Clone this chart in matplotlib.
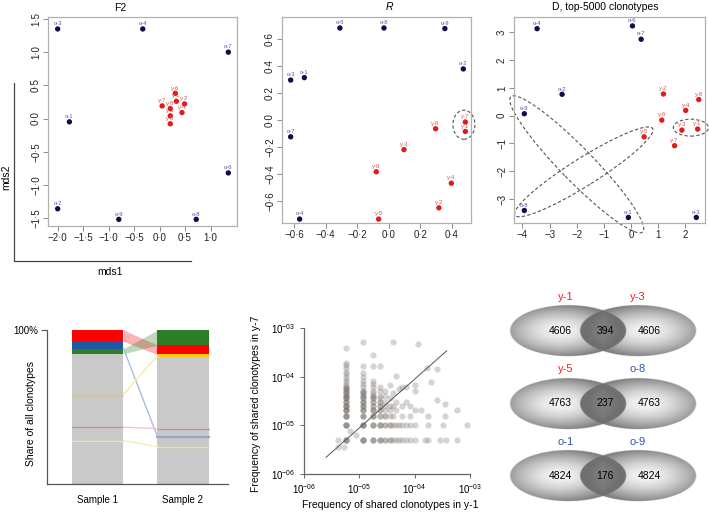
import numpy as np
import matplotlib.pyplot as plt
from matplotlib.patches import Ellipse
from matplotlib.lines import Line2D

plt.rcParams['font.family'] = ['Liberation Sans', 'DejaVu Sans']
plt.rcParams['mathtext.fontset'] = 'custom'
plt.rcParams['mathtext.rm'] = 'Liberation Sans'
plt.rcParams['mathtext.it'] = 'Liberation Sans:italic'

# ---------------- data ----------------
samples = ['o-1', 'o-2', 'o-3', 'o-4', 'o-6', 'o-7', 'o-8', 'o-9',
           'y-1', 'y-2', 'y-3', 'y-4', 'y-5', 'y-6', 'y-7', 'y-8']

f2_x = [-1.77, -2.0, -2.0, -0.33, 1.35, 1.35, 0.72, -0.80,
        0.33, 0.49, 0.21, 0.44, 0.21, 0.31, 0.05, 0.21]
f2_y = [-0.05, -1.36, 1.35, 1.35, -0.82, 1.00, -1.52, -1.52,
        0.26, 0.22, 0.04, 0.09, -0.08, 0.38, 0.19, 0.15]

r_x = [-0.536, 0.474, -0.623, -0.566, -0.31, -0.623, -0.03, 0.357,
       0.487, 0.319, 0.097, 0.398, -0.064, 0.298, 0.487, -0.079]
r_y = [0.315, 0.38, 0.297, -0.737, 0.684, -0.125, 0.684, 0.68,
       -0.085, -0.653, -0.22, -0.47, -0.737, -0.065, -0.015, -0.385]

d_x = [-0.10, -2.54, 2.40, -3.46, 0.05, 0.37, -3.93, -3.93,
       2.45, 1.19, 1.87, 2.01, 0.48, 1.13, 1.60, 2.49]
d_y = [-3.66, 0.77, -3.66, 3.13, 3.23, 2.75, -3.41, 0.07,
       -0.48, 0.78, -0.52, 0.19, -0.76, -0.16, -1.08, 0.58]

# clonotype tracking (share of all clonotypes, %)
track_samples = ['Sample 1', 'Sample 2']
s1_bands = [('red', 7.4), ('blue', 4.8), ('green', 3.3)]
s2_bands = [('green', 9.8), ('red', 6.1), ('orange', 1.6)]
s1_minor = [('orange', 58.1), ('pink', 36.9), ('yellow', 28.2)]
s2_minor = [('pink', 36.0), ('blue', 30.8), ('yellow', 24.2)]

# shared clonotypes y-1 vs y-7: (reads in y-1, reads in y-7, number of clonotypes)
reads_unit_x = 5.85e-6
reads_unit_y = 5.1e-6
shared = [
    (1, 1, 4), (1, 2, 4), (1, 3, 4), (1, 4, 4), (1, 5, 4), (1, 6, 3), (1, 7, 3), (1, 8, 3),
    (1, 9, 2), (1, 10, 2), (1, 11, 2), (1, 12, 2), (1, 13, 1), (1, 15, 1), (1, 17, 1),
    (1, 19, 1), (1, 22, 1), (1, 25, 1), (1, 29, 1), (1, 34, 1), (1, 38, 1), (1, 75, 1),
    (2, 1, 4), (2, 2, 4), (2, 3, 3), (2, 4, 3), (2, 5, 3), (2, 6, 3), (2, 7, 2), (2, 8, 2),
    (2, 9, 2), (2, 10, 2), (2, 12, 1), (2, 14, 1), (2, 16, 1), (2, 19, 1), (2, 23, 1),
    (2, 33, 1), (2, 100, 1),
    (3, 1, 3), (3, 2, 3), (3, 3, 3), (3, 4, 3), (3, 5, 2), (3, 6, 2), (3, 7, 2), (3, 8, 2),
    (3, 9, 1), (3, 10, 1), (3, 12, 1), (3, 14, 1), (3, 16, 1), (3, 33, 1), (3, 55, 1),
    (4, 1, 3), (4, 2, 3), (4, 3, 2), (4, 4, 2), (4, 5, 2), (4, 6, 2), (4, 7, 1), (4, 8, 1),
    (4, 10, 1), (4, 12, 1), (4, 33, 1),
    (5, 1, 2), (5, 2, 2), (5, 3, 2), (5, 4, 1), (5, 5, 1), (5, 6, 1), (5, 8, 1), (5, 10, 1),
    (6, 1, 2), (6, 2, 2), (6, 3, 1), (6, 4, 1), (6, 5, 1), (6, 7, 1), (6, 13, 1),
    (7, 1, 1), (7, 2, 1), (7, 3, 1), (7, 5, 1), (7, 9, 1), (7, 100, 1),
    (8, 1, 1), (8, 2, 1), (8, 4, 1), (8, 6, 1), (8, 20, 1),
    (9, 1, 1), (9, 2, 1), (9, 11, 1),
    (10, 1, 1), (10, 2, 1), (10, 3, 1), (10, 5, 1), (10, 12, 1),
    (12, 1, 1), (12, 2, 1), (12, 6, 1), (12, 12, 1),
    (14, 1, 1), (14, 2, 1), (14, 3, 1), (14, 5, 1),
    (17, 1, 1), (17, 2, 1), (17, 4, 1), (17, 10, 1), (17, 13, 1),
    (20, 90, 1), (22, 4, 1), (26, 1, 1), (28, 30, 1), (30, 1, 1), (30, 2, 1), (30, 3, 1),
    (34, 15, 1), (44, 6.5, 1), (44, 28, 1), (49, 1, 1), (55, 2, 1), (60, 3, 1),
    (60, 5.5, 1), (64, 1, 1), (100, 1, 1), (100, 4, 1), (148, 2, 1),
    (0.7, 1, 1), (0.7, 0.72, 1), (0.9, 0.72, 1), (1.15, 1.5, 1), (1.5, 1.25, 1),
]
fit_x = [2.5e-6, 3.8e-4]
fit_y = [2.2e-6, 3.4e-4]

venn_left = ['y-1', 'y-5', 'o-1']
venn_right = ['y-3', 'o-8', 'o-9']
only_left = [4606, 4763, 4824]
overlap = [394, 237, 176]
only_right = [4606, 4763, 4824]

# ---------------- figure ----------------
W, H = 709, 512
fig = plt.figure(figsize=(W / 100, H / 100), dpi=100)

NAVY = '#0e0e4a'
RED = '#e01b1b'


def px_axes(l, t, r, b):
    return fig.add_axes([l / W, 1 - b / H, (r - l) / W, (b - t) / H])


def ptext(x, y, s, **kw):
    fig.text(x / W, 1 - y / H, s, **kw)


def dot_fmt(v, nd):
    v = round(v, nd)
    s = f'{abs(v):.{nd}f}'.replace('.', '\u00b7')
    return '\u2212' + s if v < 0 else s


def mds_panel(box, xs, ys, xlim, ylim, xticks, yticks, nd):
    ax = px_axes(*box)
    cols = [NAVY if s.startswith('o') else RED for s in samples]
    lcols = ['#5656a0' if s.startswith('o') else '#ea4a44' for s in samples]
    ax.scatter(xs, ys, s=15, c=cols, linewidths=0, zorder=3, clip_on=False)
    for x, y, s, c in zip(xs, ys, samples, lcols):
        ax.annotate(s, (x, y), xytext=(0, 2.0), textcoords='offset points',
                    ha='center', va='bottom', fontsize=4.2, color=c,
                    annotation_clip=False)
    ax.set_xlim(xlim)
    ax.set_ylim(ylim)
    ax.set_xticks(xticks)
    ax.set_xticklabels([dot_fmt(v, nd) for v in xticks])
    ax.set_yticks(yticks)
    ax.set_yticklabels([dot_fmt(v, nd) for v in yticks], rotation=90, va='center')
    for sp in ax.spines.values():
        sp.set_color('#b0b0b0')
        sp.set_linewidth(0.9)
    ax.tick_params(length=3.5, width=0.6, color='#777777', labelsize=7,
                   pad=1.5, labelcolor='#222222')
    return ax


ax1 = mds_panel((48, 17, 237, 226), f2_x, f2_y, (-2.19, 1.52), (-1.62, 1.53),
                np.arange(-2.0, 1.01, 0.5), np.arange(-1.5, 1.51, 0.5), 1)
ax2 = mds_panel((282, 17, 471, 223), r_x, r_y, (-0.678, 0.523), (-0.766, 0.766),
                np.arange(-0.6, 0.41, 0.2), np.arange(-0.6, 0.61, 0.2), 1)
ax3 = mds_panel((514, 17, 705, 223), d_x, d_y, (-4.31, 2.72), (-3.86, 3.55),
                np.arange(-4, 3), np.arange(-3, 4), 0)

ell_kw = dict(fill=False, ls=(0, (3, 2)), lw=0.8, ec='#555555', clip_on=False)
ax2.add_patch(Ellipse((0.478, -0.035), 0.14, 0.216, **ell_kw))
ax3.add_patch(Ellipse((2.2, -0.43), 1.29, 0.61, **ell_kw))
ax3.add_patch(Ellipse((-1.74, -2.02), 5.95, 1.0, angle=31.6, **ell_kw))
ax3.add_patch(Ellipse((-2.0, -1.75), 6.87, 1.2, angle=-45, **ell_kw))

ptext(120, 8, 'F2', ha='center', va='center', fontsize=7.5)
ptext(389, 7, 'R', ha='center', va='center', fontsize=7.5, style='italic')
ptext(605, 7, 'D, top-5000 clonotypes', ha='center', va='center', fontsize=7.5)

# extra mds axes lines
fig.add_artist(Line2D([13.5 / W, 13.5 / W, 191 / W],
                      [1 - 83 / H, 1 - 261 / H, 1 - 261 / H],
                      color='#444444', lw=0.9))
ptext(6, 177, 'mds2', ha='center', va='center', rotation=90, fontsize=7.5)
ptext(110, 272, 'mds1', ha='center', va='center', fontsize=7.5)

# ---------------- clonotype tracking ----------------
colors = {'red': '#ff0000', 'blue': '#1f56a6', 'green': '#2d7e27',
          'orange': '#ffc61a', 'pink': '#d77fae', 'yellow': '#f3e77a'}
flow_colors = {'red': '#ff8080', 'blue': '#a9bde0', 'green': '#9fcf9a',
               'orange': '#fbeaa6', 'pink': '#eec5da', 'yellow': '#f5efb5'}
ax4 = px_axes(47, 330, 228, 484)
bar_w = 0.6
ax4.bar([1, 2], [100, 100], width=bar_w, color='#c9c9c9', lw=0)


def positions(bands, minor):
    pos = {}
    top = 100
    for name, share in bands:
        pos[name] = (top - share, top)
        top -= share
    for name, level in minor:
        pos[name] = (level, level)
    return pos


pos1 = positions(s1_bands, s1_minor)
pos2 = positions(s2_bands, s2_minor)
for xc, bands, minor in [(1, s1_bands, s1_minor), (2, s2_bands, s2_minor)]:
    pos = positions(bands, minor)
    for name, share in bands:
        lo, hi = pos[name]
        ax4.bar(xc, hi - lo, bottom=lo, width=bar_w, color=colors[name], lw=0)
    for name, level in minor:
        lw = 1.6 if name == 'blue' else 0.9
        c = '#97a6c6' if name == 'blue' else colors[name]
        ax4.plot([xc - bar_w / 2, xc + bar_w / 2], [level, level], color=c, lw=lw)

x0, x1 = 1 + bar_w / 2, 2 - bar_w / 2
for name in pos1:
    if name not in pos2:
        continue
    lo1, hi1 = pos1[name]
    lo2, hi2 = pos2[name]
    if hi1 - lo1 > 0 and hi2 - lo2 > 0:
        ax4.fill_between([x0, x1], [lo1, lo2], [hi1, hi2], color=colors[name],
                         alpha=0.3, lw=0)
    else:
        ax4.plot([x0, x1], [lo1 + 0.5 if hi1 - lo1 > 1 else lo1,
                            (lo2 + hi2) / 2], color=flow_colors[name], lw=1.0)

ax4.set_xlim(1 - 50.7 / 85.3, 2 + 45 / 85.3)
ax4.set_ylim(0, 100)
for s in ['top', 'right']:
    ax4.spines[s].set_visible(False)
for s in ['left', 'bottom']:
    ax4.spines[s].set_color('#555555')
    ax4.spines[s].set_linewidth(0.9)
ax4.set_yticks([100])
ax4.set_yticklabels(['100%'])
ax4.set_xticks([1, 2])
ax4.set_xticklabels(track_samples)
ax4.tick_params(axis='y', length=4, width=0.8, color='#555555', labelsize=7, pad=2)
ax4.tick_params(axis='x', length=0, labelsize=7, pad=8)
ptext(31, 413, 'Share of all clonotypes', ha='center', va='center',
      rotation=90, fontsize=7.5)

# ---------------- shared clonotype frequencies ----------------
ax5 = px_axes(304, 328, 470, 474)
sx = np.array([p[0] for p in shared]) * reads_unit_x
sy = np.array([p[1] for p in shared]) * reads_unit_y
n = np.array([p[2] for p in shared])
ax5.scatter(np.repeat(sx, n), np.repeat(sy, n), s=20, c='#78716b', alpha=0.3,
            linewidths=0, clip_on=False)
ax5.plot(fit_x, fit_y, color='#555555', lw=0.7)
ax5.set_xscale('log')
ax5.set_yscale('log')
ax5.set_xlim(1e-6, 1e-3)
ax5.set_ylim(1e-6, 1e-3)
dec = [1e-6, 1e-5, 1e-4, 1e-3]
dec_lab = [r'$10^{-06}$', r'$10^{-05}$', r'$10^{-04}$', r'$10^{-03}$']
ax5.set_xticks(dec)
ax5.set_xticklabels(dec_lab)
ax5.set_yticks(dec)
ax5.set_yticklabels(dec_lab)
ax5.minorticks_off()
for s in ['top', 'right']:
    ax5.spines[s].set_visible(False)
for s in ['left', 'bottom']:
    ax5.spines[s].set_color('#666666')
    ax5.spines[s].set_linewidth(0.9)
ax5.tick_params(length=3, width=0.7, color='#666666', labelsize=7, pad=3)
ptext(390, 505, 'Frequency of shared clonotypes in y-1', ha='center', va='center',
      fontsize=7.5)
ptext(256, 404, 'Frequency of shared clonotypes in y-7', ha='center', va='center',
      rotation=90, fontsize=7.5)

# ---------------- venn pairs ----------------
ax6 = px_axes(495, 285, 709, 512)

ew, eh = 116, 51
row_y = [330.5, 403.5, 476]
cx_left, cx_right = 568, 638


def venn_pair(cy):
    # one image per pair: radial grey gradient in each ellipse, flatter grey lens
    gx = np.arange(cx_left - ew / 2 - 2, cx_right + ew / 2 + 2, 0.25)
    gy = np.arange(cy - eh / 2 - 2, cy + eh / 2 + 2, 0.25)
    X, Y = np.meshgrid(gx, gy)
    ins, alph = [], []
    for cx, shift in [(cx_left, -8), (cx_right, 8)]:
        r_edge = np.sqrt(((X - cx) / (ew / 2)) ** 2 + ((Y - cy) / (eh / 2)) ** 2)
        ins.append(np.clip((1 - r_edge) / 0.02 + 0.5, 0, 1))
        r = np.sqrt(((X - cx - shift) / (ew / 2)) ** 2 + ((Y - cy) / (eh / 2)) ** 2)
        alph.append(np.clip(0.04 + 0.44 * np.clip(r, 0, 1.2) ** 1.6, 0, 0.5))
    lens = 0.5 + 0.35 * (np.maximum(alph[0], alph[1]) - 0.31)
    a = (alph[0] * ins[0] * (1 - ins[1]) + alph[1] * ins[1] * (1 - ins[0])
         + lens * ins[0] * ins[1])
    img = np.zeros(X.shape + (4,))
    img[..., 3] = a
    ax6.imshow(img, extent=(gx[0], gx[-1], gy[-1], gy[0]), origin='upper',
               interpolation='antialiased', zorder=2)


def lab_color(s):
    return '#e3242b' if s.startswith('y') else '#2f56a8'


for i, cy in enumerate(row_y):
    venn_pair(cy)
    ax6.text(560, cy, str(only_left[i]), ha='center', va='center', fontsize=7.5, zorder=4)
    ax6.text(605, cy, str(overlap[i]), ha='center', va='center', fontsize=7.5, zorder=4)
    ax6.text(649, cy, str(only_right[i]), ha='center', va='center', fontsize=7.5, zorder=4)
    ax6.text(566, cy - 34, venn_left[i], ha='center', va='center', fontsize=8,
             color=lab_color(venn_left[i]))
    ax6.text(637.5, cy - 34, venn_right[i], ha='center', va='center', fontsize=8,
             color=lab_color(venn_right[i]))

ax6.set_xlim(495, 709)
ax6.set_ylim(512, 285)
ax6.axis('off')

plt.savefig('out.png', dpi=100)
